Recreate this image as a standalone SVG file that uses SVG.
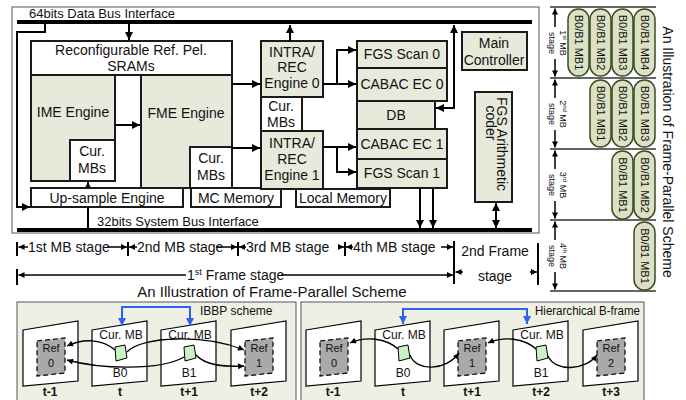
<svg xmlns="http://www.w3.org/2000/svg" width="686" height="400" viewBox="0 0 686 400">
<defs>
  <marker id="ah" viewBox="0 0 10 10" refX="10" refY="5" markerUnits="userSpaceOnUse" markerWidth="9" markerHeight="8" orient="auto-start-reverse">
    <path d="M0,0 L10,5 L0,10 z" fill="#000"/>
  </marker>
  <marker id="ahs" viewBox="0 0 10 10" refX="10" refY="5" markerUnits="userSpaceOnUse" markerWidth="8" markerHeight="6" orient="auto-start-reverse">
    <path d="M0,0 L10,5 L0,10 z" fill="#000"/>
  </marker>
  <marker id="ahb" viewBox="0 0 10 10" refX="10" refY="5" markerUnits="userSpaceOnUse" markerWidth="8" markerHeight="8" orient="auto-start-reverse">
    <path d="M0,0 L10,5 L0,10 z" fill="#2f62f0"/>
  </marker>
  <style>
    text { font-family: "Liberation Sans", Arial, sans-serif; fill: #111; }
    .c { text-anchor: middle; }
    .f14 { font-size: 14px; }
    .f13 { font-size: 13px; }
    .f12 { font-size: 12px; }
    .f11 { font-size: 11px; }
    .f9 { font-size: 9px; }
    .b { font-weight: bold; }
    .blk { fill: #e7eadb; stroke: #1a1a1a; stroke-width: 2; }
    .wht { fill: #fff; stroke: #1a1a1a; stroke-width: 2; }
    .bus { stroke: #000; stroke-width: 4; }
    .ln { stroke: #000; stroke-width: 2; fill: none; }
    .tl { stroke: #000; stroke-width: 1.5; fill: none; }
    .bar { stroke: #000; stroke-width: 2; }
    .stg { stroke: #333; stroke-width: 1.5; }
    .pill { fill: #dbe1c3; stroke: #3c4a26; stroke-width: 1.5; }
    .panel { fill: #eef0e3; stroke: #555; stroke-width: 1; }
    .frm { fill: #fff; stroke: #000; stroke-width: 1.2; }
    .ref { fill: #a9a9a9; stroke: #000; stroke-width: 1.2; stroke-dasharray: 5 3; }
    .cur { fill: #c8f2c4; stroke: #000; stroke-width: 1; }
    .cv { stroke: #000; stroke-width: 1.3; fill: none; marker-end: url(#ahs); }
    .blue { stroke: #2f62f0; stroke-width: 2; fill: none; marker-start: url(#ahb); marker-end: url(#ahb); }
  </style>
</defs>

<!-- architecture frame and buses -->
<rect x="12" y="7" width="527" height="226" fill="#fff" stroke="#555" stroke-width="1"/>
<text class="f13" x="29" y="18">64bits Data Bus Interface</text>
<line class="bus" x1="17" y1="22" x2="532" y2="22"/>
<text class="f13" x="97" y="226">32bits System Bus Interface</text>
<line class="bus" x1="17" y1="230" x2="532" y2="230"/>

<g id="sram">
  <rect class="wht" x="31" y="41" width="201" height="34"/>
  <text class="f14 c" x="131" y="55">Reconfigurable Ref. Pel.</text>
  <text class="f14 c" x="131" y="71">SRAMs</text>
</g>
<g id="ime">
  <rect class="blk" x="31" y="75" width="84" height="106"/>
  <text class="f14 c" x="73" y="117">IME Engine</text>
</g>
<g id="ime-cur">
  <rect class="wht" x="70" y="140" width="45" height="41"/>
  <text class="f14 c" x="92" y="156">Cur.</text>
  <text class="f14 c" x="92" y="173">MBs</text>
</g>
<g id="fme">
  <rect class="blk" x="141" y="75" width="91" height="113"/>
  <text class="f14 c" x="186" y="118">FME Engine</text>
</g>
<g id="fme-cur">
  <rect class="wht" x="190" y="147" width="42" height="41"/>
  <text class="f14 c" x="211" y="163">Cur.</text>
  <text class="f14 c" x="211" y="180">MBs</text>
</g>
<g id="upsample">
  <rect class="wht" x="31" y="188" width="152" height="19"/>
  <text class="f14 c" x="107" y="203">Up-sample Engine</text>
</g>
<g id="mc-memory">
  <rect class="wht" x="191" y="188" width="90" height="19"/>
  <text class="f14 c" x="236" y="203">MC Memory</text>
</g>
<g id="local-memory">
  <rect class="wht" x="296" y="189" width="94" height="18"/>
  <text class="f14 c" x="343" y="203">Local Memory</text>
</g>
<g id="intra0">
  <rect class="blk" x="261" y="41" width="62" height="56"/>
  <text class="f14 c" x="292" y="57">INTRA/</text>
  <text class="f14 c" x="292" y="72">REC</text>
  <text class="f14 c" x="292" y="88">Engine 0</text>
</g>
<g id="intra-cur">
  <rect class="wht" x="261" y="97" width="41" height="34"/>
  <text class="f14 c" x="281" y="111">Cur.</text>
  <text class="f14 c" x="281" y="127">MBs</text>
</g>
<g id="intra1">
  <rect class="blk" x="261" y="131" width="62" height="58"/>
  <text class="f14 c" x="292" y="148">INTRA/</text>
  <text class="f14 c" x="292" y="164">REC</text>
  <text class="f14 c" x="292" y="180">Engine 1</text>
</g>
<g id="fgs-scan0">
  <rect class="blk" x="357" y="41" width="90" height="27"/>
  <text class="f14 c" x="402" y="59">FGS Scan 0</text>
</g>
<g id="cabac0">
  <rect class="blk" x="357" y="68" width="90" height="33"/>
  <text class="f14 c" x="402" y="89">CABAC EC 0</text>
</g>
<g id="db">
  <rect class="blk" x="357" y="101" width="78" height="28"/>
  <text class="f14 c" x="396" y="120">DB</text>
</g>
<g id="cabac1">
  <rect class="blk" x="357" y="129" width="90" height="30"/>
  <text class="f14 c" x="402" y="149">CABAC EC 1</text>
</g>
<g id="fgs-scan1">
  <rect class="blk" x="357" y="159" width="90" height="29"/>
  <text class="f14 c" x="402" y="178">FGS Scan 1</text>
</g>
<g id="main-controller">
  <rect class="blk" x="462" y="32" width="65" height="38"/>
  <text class="f14 c" x="494" y="48">Main</text>
  <text class="f14 c" x="494" y="65">Controller</text>
</g>
<g id="fgs-arith">
  <rect class="blk" x="475" y="92" width="37" height="110"/>
  <text class="f14 c" transform="translate(502,144) rotate(90)" y="5">FGS Arithmetic</text>
  <text class="f14 c" transform="translate(489,123) rotate(90)" y="3">coder</text>
</g>

<g id="connectors">
  <path class="ln" d="M45,22 V32 H17 V207 H30" marker-end="url(#ah)"/>
  <path class="ln" d="M129,24 V40" marker-end="url(#ah)"/>
  <path class="ln" d="M115,125 H140" marker-end="url(#ah)"/>
  <path class="ln" d="M88,188 V182" marker-end="url(#ahs)"/>
  <path class="ln" d="M88,207 V229"/>
  <path class="ln" d="M232,84 H260" marker-end="url(#ah)"/>
  <path class="ln" d="M232,148 H260" marker-end="url(#ah)"/>
  <path class="ln" d="M290,41 V25" marker-end="url(#ah)"/>
  <path class="ln" d="M323,84 H356" marker-end="url(#ah)"/>
  <path class="ln" d="M337,84 V50 H356" marker-end="url(#ah)"/>
  <path class="ln" d="M323,147 H356" marker-end="url(#ah)"/>
  <path class="ln" d="M337,147 V172 H356" marker-end="url(#ah)"/>
  <path class="ln" d="M436,108 H454 V25" marker-start="url(#ah)" marker-end="url(#ah)"/>
  <path class="ln" d="M420,188 V228" marker-end="url(#ah)"/>
  <path class="ln" d="M433,188 V228" marker-end="url(#ah)"/>
  <path class="ln" d="M496,203 V228" marker-start="url(#ah)" marker-end="url(#ah)"/>
</g>

<!-- stage timeline -->
<g id="timeline">
  <line class="bar" x1="17" y1="242" x2="17" y2="256"/>
  <line class="bar" x1="128" y1="242" x2="128" y2="256"/>
  <line class="bar" x1="238" y1="242" x2="238" y2="256"/>
  <line class="bar" x1="345" y1="242" x2="345" y2="256"/>
  <line class="bar" x1="454" y1="241" x2="454" y2="284"/>
  <line class="bar" x1="538" y1="243" x2="538" y2="285"/>
  <line class="bar" x1="17" y1="269" x2="17" y2="285"/>
  <path class="tl" d="M28,247 H18.5" marker-end="url(#ahs)"/>
  <path class="tl" d="M107,247 H127" marker-end="url(#ahs)"/>
  <path class="tl" d="M137,247 H129" marker-end="url(#ahs)"/>
  <path class="tl" d="M216,247 H237" marker-end="url(#ahs)"/>
  <path class="tl" d="M246,247 H239" marker-end="url(#ahs)"/>
  <path class="tl" d="M339,247 H344" marker-end="url(#ahs)"/>
  <path class="tl" d="M353,247 H346" marker-end="url(#ahs)"/>
  <path class="tl" d="M441,247 H453" marker-end="url(#ahs)"/>
  <text class="f14" x="28" y="252">1st MB stage</text>
  <text class="f14" x="137" y="252">2nd MB stage</text>
  <text class="f14" x="246" y="252">3rd MB stage</text>
  <text class="f14" x="353" y="252">4th MB stage</text>
  <path class="tl" d="M186,275 H18.5" marker-end="url(#ahs)"/>
  <path class="tl" d="M281,275 H453" marker-end="url(#ahs)"/>
  <text class="f14" x="187" y="280">1<tspan font-size="9" dy="-5">st</tspan><tspan dy="5"> Frame stage</tspan></text>
  <path class="tl" d="M463,272 H455.5" marker-end="url(#ahs)"/>
  <path class="tl" d="M530,272 H537" marker-end="url(#ahs)"/>
  <text class="f14 c" x="495" y="256">2nd Frame</text>
  <text class="f14 c" x="495" y="281">stage</text>
  <text class="c" font-size="15" x="272" y="297">An Illustration of Frame-Parallel Scheme</text>
</g>

<!-- pipeline stages, vertical -->
<g id="stage-lines">
  <line class="stg" x1="550" y1="7" x2="656" y2="7"/>
  <line class="stg" x1="550" y1="78" x2="656" y2="78"/>
  <line class="stg" x1="550" y1="149" x2="656" y2="149"/>
  <line class="stg" x1="550" y1="220" x2="656" y2="220"/>
  <line class="stg" x1="550" y1="291" x2="656" y2="291"/>
  <path class="tl" d="M555,27 V8.5" marker-end="url(#ahs)"/>
  <path class="tl" d="M555,59 V76.5" marker-end="url(#ahs)"/>
  <path class="tl" d="M555,98 V79.5" marker-end="url(#ahs)"/>
  <path class="tl" d="M555,130 V147.5" marker-end="url(#ahs)"/>
  <path class="tl" d="M555,169 V150.5" marker-end="url(#ahs)"/>
  <path class="tl" d="M555,201 V218.5" marker-end="url(#ahs)"/>
  <path class="tl" d="M555,240 V221.5" marker-end="url(#ahs)"/>
  <path class="tl" d="M555,272 V289.5" marker-end="url(#ahs)"/>
  <text class="f9 c" transform="translate(563,43) rotate(90)" y="3">1<tspan font-size="6" dy="-3">st</tspan><tspan dy="3"> MB</tspan></text>
  <text class="f9 c" transform="translate(551,43) rotate(90)" y="2.5">stage</text>
  <text class="f9 c" transform="translate(563,114) rotate(90)" y="3">2<tspan font-size="6" dy="-3">nd</tspan><tspan dy="3"> MB</tspan></text>
  <text class="f9 c" transform="translate(551,114) rotate(90)" y="2.5">stage</text>
  <text class="f9 c" transform="translate(563,185) rotate(90)" y="3">3<tspan font-size="6" dy="-3">rd</tspan><tspan dy="3"> MB</tspan></text>
  <text class="f9 c" transform="translate(551,185) rotate(90)" y="2.5">stage</text>
  <text class="f9 c" transform="translate(563,256) rotate(90)" y="3">4<tspan font-size="6" dy="-3">th</tspan><tspan dy="3"> MB</tspan></text>
  <text class="f9 c" transform="translate(551,256) rotate(90)" y="2.5">stage</text>
  <text class="c" font-size="14" transform="translate(668,152) rotate(90)" y="5">An Illustration of Frame-Parallel Scheme</text>
</g>

<g id="stage1-mbs">
  <rect class="pill" x="568" y="9" width="21" height="67" rx="10.5"/>
  <rect class="pill" x="590" y="9" width="21" height="67" rx="10.5"/>
  <rect class="pill" x="612" y="9" width="21" height="67" rx="10.5"/>
  <rect class="pill" x="634" y="9" width="21" height="67" rx="10.5"/>
  <text class="f11 c" transform="translate(578.5,42.5) rotate(90)" y="4">B0/B1 MB1</text>
  <text class="f11 c" transform="translate(600.5,42.5) rotate(90)" y="4">B0/B1 MB2</text>
  <text class="f11 c" transform="translate(622.5,42.5) rotate(90)" y="4">B0/B1 MB3</text>
  <text class="f11 c" transform="translate(644.5,42.5) rotate(90)" y="4">B0/B1 MB4</text>
</g>
<g id="stage2-mbs">
  <rect class="pill" x="590" y="80" width="21" height="67" rx="10.5"/>
  <rect class="pill" x="612" y="80" width="21" height="67" rx="10.5"/>
  <rect class="pill" x="634" y="80" width="21" height="67" rx="10.5"/>
  <text class="f11 c" transform="translate(600.5,113.5) rotate(90)" y="4">B0/B1 MB1</text>
  <text class="f11 c" transform="translate(622.5,113.5) rotate(90)" y="4">B0/B1 MB2</text>
  <text class="f11 c" transform="translate(644.5,113.5) rotate(90)" y="4">B0/B1 MB3</text>
</g>
<g id="stage3-mbs">
  <rect class="pill" x="612" y="151" width="21" height="68" rx="10.5"/>
  <rect class="pill" x="634" y="151" width="21" height="68" rx="10.5"/>
  <text class="f11 c" transform="translate(622.5,185) rotate(90)" y="4">B0/B1 MB1</text>
  <text class="f11 c" transform="translate(644.5,185) rotate(90)" y="4">B0/B1 MB2</text>
</g>
<g id="stage4-mbs">
  <rect class="pill" x="634" y="222" width="21" height="68" rx="10.5"/>
  <text class="f11 c" transform="translate(644.5,256) rotate(90)" y="4">B0/B1 MB1</text>
</g>

<!-- IBBP scheme -->
<g id="ibbp">
  <rect class="panel" x="17" y="302" width="279" height="100"/>
  <text class="f12" x="200" y="315">IBBP scheme</text>
  <polygon class="frm" points="23,330 78,321 78,381 23,386"/>
  <polygon class="frm" points="92,330 147,321 147,381 92,386"/>
  <polygon class="frm" points="161,330 216,321 216,381 161,386"/>
  <polygon class="frm" points="231,330 286,321 286,381 231,386"/>
  <polygon class="ref" points="37,341 65,338 65,373 37,376"/>
  <polygon class="ref" points="245,341 273,338 273,373 245,376"/>
  <text class="f11 c" x="51" y="352">Ref</text>
  <text class="f11 c" x="51" y="367">0</text>
  <text class="f11 c" x="259" y="352">Ref</text>
  <text class="f11 c" x="259" y="367">1</text>
  <text class="f12 c" x="121" y="339">Cur. MB</text>
  <text class="f12 c" x="190" y="339">Cur. MB</text>
  <polygon class="cur" points="115,347 125,345 127,358 116,361"/>
  <polygon class="cur" points="184,347 194,345 196,358 185,361"/>
  <text class="f12 c" x="120" y="377">B0</text>
  <text class="f12 c" x="189" y="377">B1</text>
  <text class="f12 c b" x="50" y="396">t-1</text>
  <text class="f12 c b" x="120" y="396">t</text>
  <text class="f12 c b" x="189" y="396">t+1</text>
  <text class="f12 c b" x="259" y="396">t+2</text>
</g>
<g id="ibbp-refs">
  <path class="cv" d="M115,350 C102,339 84,338 67,346"/>
  <path class="cv" d="M127,352 C142,336 205,334 244,350"/>
  <path class="cv" d="M184,357 C160,371 100,369 67,360"/>
  <path class="cv" d="M196,355 C206,366 225,367 244,366"/>
  <path class="blue" d="M122,326 V307 H190 V326"/>
</g>

<!-- Hierarchical B-frame scheme -->
<g id="hier-b">
  <rect class="panel" x="301" y="302" width="343" height="100"/>
  <text class="f12" x="535" y="315" textLength="105" lengthAdjust="spacingAndGlyphs">Hierarchical B-frame</text>
  <polygon class="frm" points="306,330 361,321 361,381 306,386"/>
  <polygon class="frm" points="375,330 430,321 430,381 375,386"/>
  <polygon class="frm" points="444,330 499,321 499,381 444,386"/>
  <polygon class="frm" points="513,330 568,321 568,381 513,386"/>
  <polygon class="frm" points="583,330 638,321 638,381 583,386"/>
  <polygon class="ref" points="320,341 348,338 348,373 320,376"/>
  <polygon class="ref" points="458,341 486,338 486,373 458,376"/>
  <polygon class="ref" points="597,341 625,338 625,373 597,376"/>
  <text class="f11 c" x="334" y="352">Ref</text>
  <text class="f11 c" x="334" y="367">0</text>
  <text class="f11 c" x="472" y="352">Ref</text>
  <text class="f11 c" x="472" y="367">1</text>
  <text class="f11 c" x="611" y="352">Ref</text>
  <text class="f11 c" x="611" y="367">2</text>
  <text class="f12 c" x="404" y="339">Cur. MB</text>
  <text class="f12 c" x="542" y="339">Cur. MB</text>
  <polygon class="cur" points="398,347 408,345 410,358 399,361"/>
  <polygon class="cur" points="536,347 546,345 548,358 537,361"/>
  <text class="f12 c" x="403" y="377">B0</text>
  <text class="f12 c" x="541" y="377">B1</text>
  <text class="f12 c b" x="333" y="396">t-1</text>
  <text class="f12 c b" x="403" y="396">t</text>
  <text class="f12 c b" x="472" y="396">t+1</text>
  <text class="f12 c b" x="541" y="396">t+2</text>
  <text class="f12 c b" x="611" y="396">t+3</text>
</g>
<g id="hier-refs">
  <path class="cv" d="M398,349 C386,338 366,336 350,343"/>
  <path class="cv" d="M410,355 C416,372 446,371 459,353"/>
  <path class="cv" d="M536,349 C524,338 504,336 488,343"/>
  <path class="cv" d="M548,356 C555,372 585,371 597,355"/>
  <path class="blue" d="M403,324 V309 H527 V324"/>
</g>
</svg>
